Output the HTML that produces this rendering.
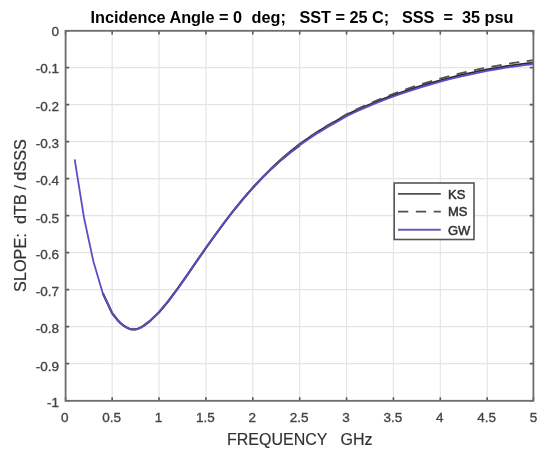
<!DOCTYPE html>
<html><head><meta charset="utf-8"><style>
html,body{margin:0;padding:0;background:#fff;width:550px;height:458px;overflow:hidden}
svg{display:block;will-change:transform;filter:blur(0.5px)}
text{font-family:"Liberation Sans",sans-serif;white-space:pre}
.t{stroke-width:0.35px;stroke-linejoin:round}
.t2{stroke-width:0.2px;stroke-linejoin:round}
</style></head><body>
<svg width="550" height="458" viewBox="0 0 550 458">
<rect width="550" height="458" fill="#fff"/>
<g stroke="#e4e4e4" stroke-width="1.15" fill="none">
<line x1="112.17" y1="30.8" x2="112.17" y2="400.8"/><line x1="159.05" y1="30.8" x2="159.05" y2="400.8"/><line x1="205.93" y1="30.8" x2="205.93" y2="400.8"/><line x1="252.80" y1="30.8" x2="252.80" y2="400.8"/><line x1="299.68" y1="30.8" x2="299.68" y2="400.8"/><line x1="346.55" y1="30.8" x2="346.55" y2="400.8"/><line x1="393.43" y1="30.8" x2="393.43" y2="400.8"/><line x1="440.30" y1="30.8" x2="440.30" y2="400.8"/><line x1="487.18" y1="30.8" x2="487.18" y2="400.8"/><line x1="65.6" y1="67.60" x2="533.4" y2="67.60"/><line x1="65.6" y1="104.60" x2="533.4" y2="104.60"/><line x1="65.6" y1="141.60" x2="533.4" y2="141.60"/><line x1="65.6" y1="178.60" x2="533.4" y2="178.60"/><line x1="65.6" y1="215.60" x2="533.4" y2="215.60"/><line x1="65.6" y1="252.60" x2="533.4" y2="252.60"/><line x1="65.6" y1="289.60" x2="533.4" y2="289.60"/><line x1="65.6" y1="326.60" x2="533.4" y2="326.60"/><line x1="65.6" y1="363.60" x2="533.4" y2="363.60"/>
</g>
<g fill="none" stroke-linejoin="round" stroke-linecap="butt">
<path d="M252.80,187.76 262.18,177.81 271.55,168.28 280.92,159.46 290.30,151.47 299.68,144.08 309.05,137.51 318.43,131.31 327.80,125.58 337.18,120.27 346.55,114.85 355.93,110.40 365.30,106.25 374.68,102.35 384.05,98.66 393.43,95.16 402.80,91.83 412.18,88.68 421.55,85.71 430.93,82.90 440.30,80.27 449.67,77.80 459.05,75.49 468.43,73.34 477.80,71.34 487.18,69.50 496.55,67.81 505.93,66.26 515.30,64.86 524.68,63.60 533.40,62.54" stroke="#2a2a2a" stroke-width="1.8"/>
<path d="M102.80,293.20 112.17,313.20 118.00,320.50 120.80,323.40 123.70,325.70 126.50,327.40 129.40,328.80 131.60,329.40 135.00,329.40 137.90,328.80 140.70,327.60 144.00,325.50 149.68,321.25 159.05,312.18 168.43,300.97 177.80,288.46 187.18,275.13 196.55,261.49 205.93,247.96 215.30,234.79 224.68,222.08 234.05,209.94 243.43,198.47 252.80,187.76 262.18,177.81 271.55,168.58 280.92,160.06 290.30,152.36 299.68,145.27" stroke="#2a2a2a" stroke-width="2.2"/>
<path d="M252.80,187.76 262.18,177.75 271.55,168.24 280.92,159.43 290.30,151.45 299.68,144.08 309.05,137.42 318.43,131.13 327.80,125.30 337.18,119.90 346.55,114.32 355.93,109.68 365.30,105.35 374.68,101.29 384.05,97.47 393.43,93.83 402.80,90.38 412.18,87.12 421.55,84.11 430.93,81.28 440.30,78.61 449.67,76.10 459.05,73.73 468.43,71.51 477.80,69.46 487.18,67.55 496.55,65.79 505.93,64.18 515.30,62.70 524.68,61.37 533.40,60.25" stroke="#505050" stroke-width="1.8" stroke-dasharray="10.30,7.56" stroke-dashoffset="13.01"/>
<path d="M74.67,159.40 84.05,218.00 93.42,261.50 102.80,293.20 112.17,313.20 118.00,320.50 120.80,323.40 123.70,325.70 126.50,327.40 129.40,328.80 131.60,329.40 135.00,329.40 137.90,328.80 140.70,327.60 144.00,325.50 149.68,321.25 159.05,312.18 168.43,300.97 177.80,288.46 187.18,275.13 196.55,261.49 205.93,247.96 215.30,234.79 224.68,222.08 234.05,209.94 243.43,198.47 252.80,187.76 262.18,177.81 271.55,168.58 280.92,160.06 290.30,152.36 299.68,145.27 309.05,138.76 318.43,132.61 327.80,126.92 337.18,121.66 346.55,116.23 355.93,111.74 365.30,107.57 374.68,103.66 384.05,99.98 393.43,96.48 402.80,93.17 412.18,90.03 421.55,87.07 430.93,84.28 440.30,81.66 449.67,79.20 459.05,76.90 468.43,74.76 477.80,72.78 487.18,70.95 496.55,69.26 505.93,67.73 515.30,66.34 524.68,65.08 533.40,64.04" stroke="#5b4ec6" stroke-width="1.8"/>
</g>
<path d="M65.60,400.8v-3.6M65.60,30.8v3.6M65.6,30.80h3.6M533.4,30.80h-3.6M112.17,400.8v-3.6M112.17,30.8v3.6M65.6,67.60h3.6M533.4,67.60h-3.6M159.05,400.8v-3.6M159.05,30.8v3.6M65.6,104.60h3.6M533.4,104.60h-3.6M205.93,400.8v-3.6M205.93,30.8v3.6M65.6,141.60h3.6M533.4,141.60h-3.6M252.80,400.8v-3.6M252.80,30.8v3.6M65.6,178.60h3.6M533.4,178.60h-3.6M299.68,400.8v-3.6M299.68,30.8v3.6M65.6,215.60h3.6M533.4,215.60h-3.6M346.55,400.8v-3.6M346.55,30.8v3.6M65.6,252.60h3.6M533.4,252.60h-3.6M393.43,400.8v-3.6M393.43,30.8v3.6M65.6,289.60h3.6M533.4,289.60h-3.6M440.30,400.8v-3.6M440.30,30.8v3.6M65.6,326.60h3.6M533.4,326.60h-3.6M487.18,400.8v-3.6M487.18,30.8v3.6M65.6,363.60h3.6M533.4,363.60h-3.6M533.40,400.8v-3.6M533.40,30.8v3.6M65.6,400.80h3.6M533.4,400.80h-3.6" stroke="#5a5a5a" stroke-width="1.6" fill="none"/>
<rect x="65.6" y="30.8" width="467.8" height="370.0" fill="none" stroke="#6c6c6c" stroke-width="1.8"/>
<g font-size="13.5" fill="#444" stroke="#444" class="t">
<text x="59" y="36.4" text-anchor="end">0</text><text x="59" y="73.3" text-anchor="end">-0.1</text><text x="59" y="111.1" text-anchor="end">-0.2</text><text x="59" y="148.1" text-anchor="end">-0.3</text><text x="59" y="184.6" text-anchor="end">-0.4</text><text x="59" y="222.9" text-anchor="end">-0.5</text><text x="59" y="259.1" text-anchor="end">-0.6</text><text x="59" y="296.1" text-anchor="end">-0.7</text><text x="59" y="332.8" text-anchor="end">-0.8</text><text x="59" y="371.0" text-anchor="end">-0.9</text><text x="59" y="407.2" text-anchor="end">-1</text>
<text x="64.8" y="422" text-anchor="middle">0</text><text x="111.7" y="422" text-anchor="middle">0.5</text><text x="158.6" y="422" text-anchor="middle">1</text><text x="205.4" y="422" text-anchor="middle">1.5</text><text x="252.3" y="422" text-anchor="middle">2</text><text x="299.2" y="422" text-anchor="middle">2.5</text><text x="346.1" y="422" text-anchor="middle">3</text><text x="392.9" y="422" text-anchor="middle">3.5</text><text x="439.8" y="422" text-anchor="middle">4</text><text x="486.7" y="422" text-anchor="middle">4.5</text><text x="533.5" y="422" text-anchor="middle">5</text>
</g>
<g font-size="16.25" font-weight="bold" fill="#000">
<text x="90.6" y="23.3" xml:space="preserve">Incidence Angle = 0</text>
<text x="251.6" y="23.3">deg;</text>
<text x="299.4" y="23.3" xml:space="preserve">SST = 25 C;</text>
<text x="401.9" y="23.3" xml:space="preserve">SSS  =  35 psu</text>
</g>
<g fill="#333" stroke="#333" class="t2">
<text x="227" y="444.9" font-size="16" xml:space="preserve">FREQUENCY   GHz</text>
<text transform="translate(26,215.5) rotate(-90)" x="0" y="0" font-size="16.3" text-anchor="middle" xml:space="preserve">SLOPE:  dTB / dSSS</text>
</g>
<g>
<rect x="394.2" y="183.0" width="79.8" height="56.5" fill="#fff" stroke="#555" stroke-width="1.6"/>
<line x1="398" y1="193.9" x2="440.8" y2="193.9" stroke="#505050" stroke-width="1.7"/>
<line x1="398" y1="211.6" x2="440.8" y2="211.6" stroke="#505050" stroke-width="1.6" stroke-dasharray="10.30,7.56"/>
<line x1="398" y1="229.8" x2="440.8" y2="229.8" stroke="#6a5cb8" stroke-width="2"/>
<g font-size="13" fill="#333" stroke="#333" stroke-width="0.5" stroke-linejoin="round">
<text x="448" y="198.5">KS</text>
<text x="448" y="216.3">MS</text>
<text x="448" y="234.7">GW</text>
</g>
</g>
</svg>
</body></html>
